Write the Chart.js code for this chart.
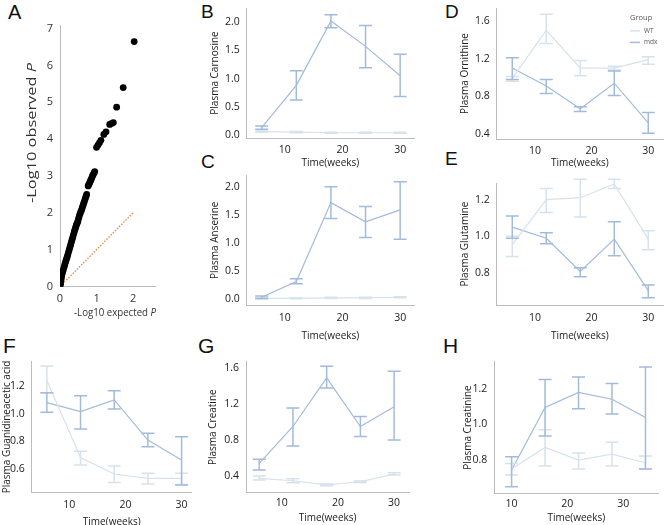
<!DOCTYPE html>
<html>
<head>
<meta charset="utf-8">
<script src="https://cdn.jsdelivr.net/npm/chart.js@4.4.1/dist/chart.umd.min.js"></script>
<style>
  body { margin: 0; width: 666px; height: 525px; background: #fff; position: relative; overflow: hidden; }
  canvas { position: absolute; }
  .lab { position: absolute; font-family: "Liberation Sans", Arial, sans-serif; color: #111; line-height: 1; }
</style>
</head>
<body>
<div class="lab" style="left:8px;top:2px;font-size:20px">A</div>
<div class="lab" style="left:201px;top:2px;font-size:19px">B</div>
<div class="lab" style="left:201px;top:152px;font-size:19px">C</div>
<div class="lab" style="left:445px;top:2px;font-size:19px">D</div>
<div class="lab" style="left:445px;top:149px;font-size:19px">E</div>
<div class="lab" style="left:3px;top:335px;font-size:21px">F</div>
<div class="lab" style="left:198px;top:335px;font-size:21px">G</div>
<div class="lab" style="left:443px;top:335px;font-size:21px">H</div>
<script>
// ---- panel A: QQ plot ----
const qqExpected = [0, 0.005, 0.01, 0.015, 0.02, 0.03, 0.04, 0.05, 0.07, 0.09, 0.11, 0.13, 0.15, 0.17, 0.19,
  0.21, 0.23, 0.25, 0.27, 0.29, 0.31, 0.33, 0.35, 0.37, 0.39, 0.41, 0.43, 0.45, 0.47, 0.49, 0.51, 0.53, 0.55,
  0.57, 0.59, 0.61, 0.63, 0.65, 0.67, 0.69, 0.71, 0.73, 0.77, 0.79, 0.81, 0.83, 0.85, 0.87, 0.89, 0.91, 0.93,
  0.95, 1.00, 1.04, 1.08, 1.12, 1.20, 1.26, 1.36, 1.42, 1.46, 1.55, 1.73, 2.03];
const qqObserved = [0, 0.03, 0.07, 0.11, 0.15, 0.2, 0.26, 0.31, 0.38, 0.45, 0.52, 0.59, 0.66, 0.72, 0.78,
  0.85, 0.92, 0.99, 1.06, 1.13, 1.2, 1.27, 1.34, 1.41, 1.48, 1.55, 1.61, 1.67, 1.72, 1.77, 1.85, 1.92, 1.98,
  2.03, 2.08, 2.14, 2.2, 2.26, 2.32, 2.38, 2.44, 2.5, 2.73, 2.77, 2.81, 2.86, 2.9, 2.95, 3.0, 3.04, 3.08,
  3.12, 3.78, 3.84, 3.9, 3.97, 4.13, 4.2, 4.4, 4.43, 4.45, 4.87, 5.4, 6.65];
const qqLine = [0, 2];
const qqXTicks = [0, 1, 2];
const qqYTicks = [0, 1, 2, 3, 4, 5, 6, 7];

// ---- panels B-H: plasma metabolites, WT vs mdx ----
const weeks = [6, 12, 18, 24, 30];
const weeksH = [10, 16, 22, 28, 34];
const weekTicks = [10, 20, 30];

const carnosineWT = [0.06, 0.05, 0.04, 0.04, 0.04];
const carnosineWTLow = [0.05, 0.04, 0.03, 0.03, 0.03];
const carnosineWTHigh = [0.07, 0.06, 0.05, 0.05, 0.05];
const carnosineMdx = [0.13, 0.88, 2.02, 1.57, 1.05];
const carnosineMdxLow = [0.10, 0.62, 1.90, 1.19, 0.68];
const carnosineMdxHigh = [0.16, 1.14, 2.13, 1.94, 1.43];

const anserineWT = [0.02, 0.02, 0.03, 0.03, 0.04];
const anserineWTLow = [0.01, 0.015, 0.02, 0.02, 0.03];
const anserineWTHigh = [0.03, 0.025, 0.04, 0.04, 0.05];
const anserineMdx = [0.04, 0.32, 1.72, 1.38, 1.59];
const anserineMdxLow = [0.02, 0.28, 1.44, 1.10, 1.07];
const anserineMdxHigh = [0.06, 0.37, 2.00, 1.65, 2.09];

const ornithineWT = [0.99, 1.50, 1.10, 1.10, 1.19];
const ornithineWTLow = [0.96, 1.36, 1.02, 1.08, 1.14];
const ornithineWTHigh = [1.01, 1.67, 1.18, 1.12, 1.22];
const ornithineMdx = [1.10, 0.91, 0.67, 0.94, 0.52];
const ornithineMdxLow = [0.98, 0.83, 0.64, 0.81, 0.41];
const ornithineMdxHigh = [1.21, 0.98, 0.69, 1.07, 0.63];

const glutamineWT = [0.955, 1.20, 1.21, 1.285, 0.985];
const glutamineWTLow = [0.89, 1.13, 1.105, 1.26, 0.927];
const glutamineWTHigh = [1.00, 1.26, 1.31, 1.31, 1.03];
const glutamineMdx = [1.05, 0.99, 0.81, 0.985, 0.705];
const glutamineMdxLow = [0.99, 0.96, 0.78, 0.895, 0.667];
const glutamineMdxHigh = [1.11, 1.02, 0.83, 1.08, 0.736];

const gaaWT = [1.24, 0.684, 0.566, 0.535, 0.535];
const gaaWTLow = [1.15, 0.63, 0.504, 0.494, 0.49];
const gaaWTHigh = [1.344, 0.73, 0.624, 0.571, 0.571];
const gaaMdx = [1.08, 1.015, 1.10, 0.81, 0.667];
const gaaMdxLow = [1.01, 0.89, 1.034, 0.763, 0.487];
const gaaMdxHigh = [1.152, 1.13, 1.166, 0.86, 0.835];

const creatineWT = [0.373, 0.347, 0.30, 0.336, 0.42];
const creatineWTLow = [0.355, 0.325, 0.29, 0.327, 0.41];
const creatineWTHigh = [0.40, 0.37, 0.31, 0.345, 0.436];
const creatineMdx = [0.54, 0.95, 1.49, 0.95, 1.17];
const creatineMdxLow = [0.466, 0.734, 1.377, 0.838, 0.80];
const creatineMdxHigh = [0.585, 1.155, 1.62, 1.06, 1.563];

const creatinineWT = [0.75, 0.87, 0.80, 0.833, 0.785];
const creatinineWTLow = [0.716, 0.767, 0.75, 0.767, 0.75];
const creatinineWTHigh = [0.78, 0.97, 0.84, 0.90, 0.822];
const creatinineMdx = [0.744, 1.094, 1.178, 1.14, 1.038];
const creatinineMdxLow = [0.651, 0.934, 1.087, 1.057, 0.75];
const creatinineMdxHigh = [0.819, 1.25, 1.265, 1.228, 1.32];

const ticksB = [0, 0.5, 1, 1.5, 2];
const ticksC = [0, 0.5, 1, 1.5, 2];
const ticksD = [0.4, 0.8, 1.2, 1.6];
const ticksE = [0.8, 1.0, 1.2];
const ticksF = [0.6, 0.8, 1.0, 1.2];
const ticksG = [0.4, 0.8, 1.2, 1.6];
const ticksH = [0.8, 1.0, 1.2];

const groupNames = ['WT', 'mdx'];

const wtColor = '#d6e2ec';
const mdxColor = '#a3bbdb';
const axisColor = '#bcbcbc';
const textColor = '#222';
const tickFont = {family: '"Open Sans"', size: 10.5};
const titleFont = {family: '"Open Sans"', size: 10};

// vertical error bars with caps, drawn through the chart scales
const errorBars = {
  id: 'errorBars',
  afterDatasetsDraw(chart) {
    const ctx = chart.ctx;
    const xs = chart.scales.x, ys = chart.scales.y;
    chart.data.datasets.forEach(ds => {
      if (!ds.low) return;
      ctx.save();
      ctx.strokeStyle = ds.borderColor;
      ctx.lineWidth = 1.5;
      ds.data.forEach((p, j) => {
        const px = xs.getPixelForValue(p.x);
        const y1 = ys.getPixelForValue(ds.low[j]);
        const y2 = ys.getPixelForValue(ds.high[j]);
        ctx.beginPath();
        ctx.moveTo(px, y1); ctx.lineTo(px, y2);
        ctx.moveTo(px - 6.5, y1); ctx.lineTo(px + 6.5, y1);
        ctx.moveTo(px - 6.5, y2); ctx.lineTo(px + 6.5, y2);
        ctx.stroke();
      });
      ctx.restore();
    });
  }
};

// small "Group" legend of panel D
const groupLegend = {
  id: 'groupLegend',
  afterDraw(chart, args, opts) {
    if (!opts.x) return;
    const ctx = chart.ctx;
    ctx.save();
    ctx.textBaseline = 'middle';
    ctx.fillStyle = '#555';
    ctx.font = '7.5px "Open Sans"';
    ctx.fillText('Group', opts.x, opts.y);
    chart.data.datasets.forEach((ds, i) => {
      const yy = opts.y + 12.5 + i * 11.6;
      ctx.strokeStyle = ds.borderColor;
      ctx.lineWidth = 1.5;
      ctx.beginPath(); ctx.moveTo(opts.x, yy); ctx.lineTo(opts.x + 10, yy); ctx.stroke();
      ctx.font = '6.5px "Open Sans"';
      ctx.fillText(ds.label, opts.x + 14, yy);
    });
    ctx.restore();
  }
};

function makeCanvas(left, top, w, h) {
  const c = document.createElement('canvas');
  c.width = w; c.height = h;
  c.style.left = left + 'px'; c.style.top = top + 'px';
  document.body.appendChild(c);
  return c;
}

function series(xs, ys, lo, hi, color, label) {
  return {
    label: label,
    data: xs.map((x, i) => ({x: x, y: ys[i]})),
    low: lo, high: hi,
    borderColor: color, borderWidth: 1.2,
    pointRadius: 0, tension: 0, fill: false
  };
}

function timePanel(p) {
  const lh = titleFont.size * 1.2;
  const left = Math.round(p.titleX - lh / 2);
  const top = Math.round(p.box.t - 8);
  const yw = p.box.l - left;
  const xh = p.titleY - p.box.b + lh / 2;
  const W = Math.ceil(p.box.r + 6 - left);
  const H = Math.ceil(p.box.b + xh - top);
  const canvas = makeCanvas(left, top, W, H);
  const legendOpts = p.legend ? {x: p.legend.x - left, y: p.legend.y - top} : {};
  new Chart(canvas, {
    type: 'line',
    data: {
      datasets: [
        series(p.weeks, p.wt[0], p.wt[1], p.wt[2], wtColor, groupNames[0]),
        series(p.weeks, p.mdx[0], p.mdx[1], p.mdx[2], mdxColor, groupNames[1])
      ]
    },
    options: {
      responsive: false, animation: false, devicePixelRatio: 1,
      layout: {padding: {left: 0, top: p.box.t - top, right: left + W - p.box.r, bottom: H - (p.box.b + xh - top)}},
      plugins: {legend: {display: false}, tooltip: {enabled: false}, groupLegend: legendOpts},
      scales: {
        x: {
          type: 'linear', min: p.xr[0], max: p.xr[1],
          afterBuildTicks: s => { s.ticks = weekTicks.map(v => ({value: v})); },
          afterFit: s => { s.height = xh; s.paddingLeft = 0; s.paddingRight = 0; },
          grid: {display: false, drawTicks: false},
          border: {color: axisColor, width: 1},
          ticks: {padding: p.xPad, font: tickFont, color: textColor, maxRotation: 0},
          title: {display: true, text: 'Time(weeks)', font: titleFont, color: textColor, padding: 0}
        },
        y: {
          type: 'linear', min: p.yr[0], max: p.yr[1],
          afterBuildTicks: s => { s.ticks = p.yTicks.map(v => ({value: v})); },
          afterFit: s => { s.width = yw; s.paddingTop = 0; s.paddingBottom = 0; },
          grid: {display: false, drawTicks: false},
          border: {color: axisColor, width: 1},
          ticks: {padding: 7, font: tickFont, color: textColor, callback: v => v.toFixed(1)},
          title: {display: true, text: p.yTitle, font: titleFont, color: textColor, padding: 0}
        }
      }
    },
    plugins: [errorBars, groupLegend]
  });
}

timePanel({box: {l: 246.7, r: 414, t: 8, b: 138}, titleX: 215, titleY: 163.3, xPad: 6,
  xr: [3.4, 32.4], yr: [-0.053, 2.25], yTicks: ticksB, yTitle: 'Plasma Carnosine', weeks: weeks,
  wt: [carnosineWT, carnosineWTLow, carnosineWTHigh], mdx: [carnosineMdx, carnosineMdxLow, carnosineMdxHigh]});
timePanel({box: {l: 246.7, r: 414, t: 175, b: 305.7}, titleX: 215, titleY: 335.7, xPad: 6.5,
  xr: [3.4, 32.4], yr: [-0.11, 2.21], yTicks: ticksC, yTitle: 'Plasma Anserine', weeks: weeks,
  wt: [anserineWT, anserineWTLow, anserineWTHigh], mdx: [anserineMdx, anserineMdxLow, anserineMdxHigh]});
timePanel({box: {l: 496.7, r: 663, t: 8, b: 139}, titleX: 465, titleY: 163.3, xPad: 5.5,
  xr: [3.25, 32.6], yr: [0.35, 1.735], yTicks: ticksD, yTitle: 'Plasma Ornithine', weeks: weeks,
  wt: [ornithineWT, ornithineWTLow, ornithineWTHigh], mdx: [ornithineMdx, ornithineMdxLow, ornithineMdxHigh],
  legend: {x: 630, y: 18.3}});
timePanel({box: {l: 496.7, r: 663, t: 183, b: 305}, titleX: 465, titleY: 335.7, xPad: 7,
  xr: [3.25, 32.6], yr: [0.627, 1.29], yTicks: ticksE, yTitle: 'Plasma Glutamine', weeks: weeks,
  wt: [glutamineWT, glutamineWTLow, glutamineWTHigh], mdx: [glutamineMdx, glutamineMdxLow, glutamineMdxHigh]});
timePanel({box: {l: 31.7, r: 191.7, t: 361.7, b: 492.3}, titleX: 7, titleY: 521.7, xPad: 6,
  xr: [3.3, 31.8], yr: [0.434, 1.375], yTicks: ticksF, yTitle: 'Plasma Guanidineacetic acid', weeks: weeks,
  wt: [gaaWT, gaaWTLow, gaaWTHigh], mdx: [gaaMdx, gaaMdxLow, gaaMdxHigh]});
timePanel({box: {l: 246, r: 409.3, t: 361.7, b: 492.7}, titleX: 213, titleY: 518.3, xPad: 4,
  xr: [3.65, 32.7], yr: [0.214, 1.67], yTicks: ticksG, yTitle: 'Plasma Creatine', weeks: weeks,
  wt: [creatineWT, creatineWTLow, creatineWTHigh], mdx: [creatineMdx, creatineMdxLow, creatineMdxHigh]});
timePanel({box: {l: 494.3, r: 658.3, t: 361.7, b: 493.3}, titleX: 468, titleY: 518.3, xPad: 4,
  xr: [6.9, 36.3], yr: [0.614, 1.35], yTicks: ticksH, yTitle: 'Plasma Creatinine', weeks: weeksH,
  wt: [creatinineWT, creatinineWTLow, creatinineWTHigh], mdx: [creatinineMdx, creatinineMdxLow, creatinineMdxHigh]});

// ---- panel A ----
function drawMixed(ctx, a, b, cx, cy, rot, len, size) {
  ctx.save();
  ctx.translate(cx, cy);
  ctx.rotate(rot);
  const f1 = size + 'px "Open Sans"', f2 = 'italic ' + size + 'px "Open Sans"';
  ctx.font = f1; const w1 = ctx.measureText(a).width;
  ctx.font = f2; const w2 = ctx.measureText(b).width;
  ctx.scale(len / (w1 + w2), 1);
  ctx.textBaseline = 'middle';
  ctx.fillStyle = '#333';
  ctx.font = f1; ctx.fillText(a, -(w1 + w2) / 2, 0);
  ctx.font = f2; ctx.fillText(b, -(w1 + w2) / 2 + w1, 0);
  ctx.restore();
}
const qqTitles = {
  id: 'qqTitles',
  afterDraw(chart) {
    drawMixed(chart.ctx, '-Log10 expected ', 'P', 115, 313, 0, 82, 11);
    drawMixed(chart.ctx, '-Log10 observed ', 'P', 33, 133, -Math.PI / 2, 140, 12);
  }
};

const qqCanvas = makeCanvas(0, 0, 170, 330);
new Chart(qqCanvas, {
  type: 'scatter',
  data: {
    datasets: [
      {
        data: qqExpected.map((x, i) => ({x: x, y: qqObserved[i]})),
        backgroundColor: '#000', borderWidth: 0, pointRadius: 3.4
      },
      {
        type: 'line',
        data: qqLine.map(v => ({x: v, y: v})),
        borderColor: '#e8843f', borderWidth: 1.3, borderDash: [1.5, 1.5],
        pointRadius: 0, fill: false
      }
    ]
  },
  options: {
    responsive: false, animation: false, devicePixelRatio: 1,
    layout: {padding: {left: 0, top: 25, right: 15, bottom: 0}},
    plugins: {legend: {display: false}, tooltip: {enabled: false}},
    scales: {
      x: {
        type: 'linear', min: 0, max: 2.6,
        afterBuildTicks: s => { s.ticks = qqXTicks.map(v => ({value: v})); },
        afterFit: s => { s.height = 43.5; s.paddingLeft = 0; s.paddingRight = 0; },
        grid: {display: false, drawTicks: false},
        border: {color: axisColor},
        ticks: {padding: 6, font: {family: '"Open Sans"', size: 11}, color: '#333'}
      },
      y: {
        type: 'linear', min: 0, max: 7.1,
        afterBuildTicks: s => { s.ticks = qqYTicks.map(v => ({value: v})); },
        afterFit: s => { s.width = 60; s.paddingTop = 0; s.paddingBottom = 0; },
        grid: {display: false, drawTicks: false},
        border: {color: axisColor},
        ticks: {padding: 7, font: {family: '"Open Sans"', size: 11}, color: '#333'}
      }
    }
  },
  plugins: [qqTitles]
});
</script>
</body>
</html>
